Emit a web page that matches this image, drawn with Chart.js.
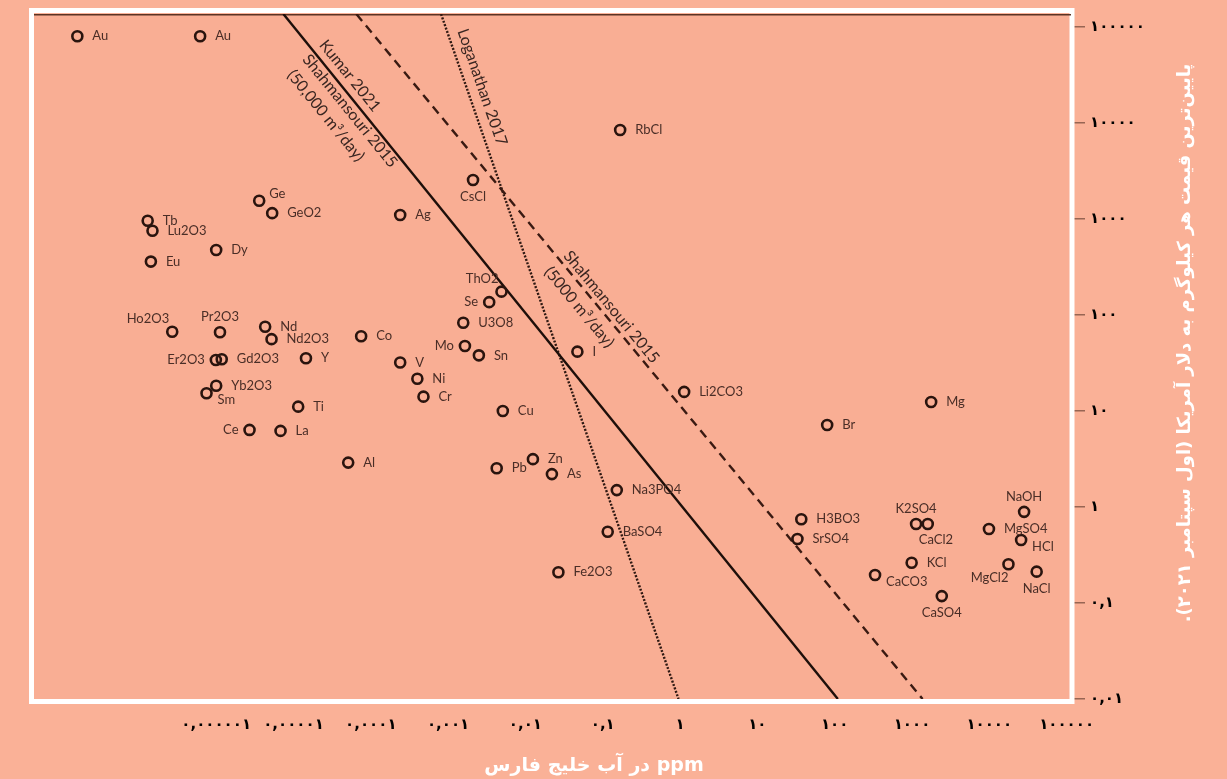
<!DOCTYPE html>
<html lang="fa">
<head>
<meta charset="utf-8">
<title>Break-even prices for Persian Gulf brine minerals</title>
<script src="https://cdn.jsdelivr.net/npm/chart.js@4.4.1/dist/chart.umd.min.js"></script>
<style>
  html, body { margin: 0; padding: 0; background: #FAB197; }
  #wrap { width: 1227px; height: 779px; position: relative; }
</style>
</head>
<body>
<div id="wrap"><canvas id="c"></canvas></div>
<script>
// Substances: concentration in Persian Gulf water (ppm) and lowest price (USD per kg)
const names = ['Au','Au','RbCl','CsCl','Ge','GeO2','Ag','Tb','Lu2O3','Dy','Eu','ThO2','Se','U3O8',
  'Ho2O3','Pr2O3','Nd','Nd2O3','Co','Mo','Sn','I','Er2O3','Gd2O3','Y','V','Ni','Cr','Yb2O3','Sm',
  'Li2CO3','Mg','Ti','Cu','Br','Ce','La','Al','Zn','Pb','As','Na3PO4','NaOH','H3BO3','K2SO4',
  'CaCl2','MgSO4','BaSO4','SrSO4','HCl','KCl','MgCl2','NaCl','Fe2O3','CaCO3','CaSO4'];
const ppm = [1.6e-8, 6.2e-7, 0.168, 0.0021, 3.6e-6, 5.3e-6, 2.4e-4, 1.3e-7, 1.5e-7, 1.0e-6, 1.43e-7, 4.9e-3, 3.4e-3, 1.57e-3,
  2.7e-7, 1.12e-6, 4.3e-6, 5.2e-6, 7.5e-5, 1.65e-3, 2.5e-3, 0.047, 9.9e-7, 1.18e-6, 1.45e-5, 2.4e-4, 4.0e-4, 4.8e-4, 1.0e-6, 7.5e-7,
  1.13, 1770, 1.15e-5, 5.1e-3, 80, 2.7e-6, 6.8e-6, 5.1e-5, 0.0125, 4.25e-3, 0.022, 0.152, 28200, 37, 1130,
  1600, 9900, 0.116, 33, 25800, 990, 17700, 41000, 0.0267, 333, 2430];
const price = [80000, 80000, 8450, 2550, 1550, 1150, 1100, 960, 755, 475, 360, 175, 136, 83,
  67, 66, 75.5, 56, 60, 47.5, 38, 41.5, 34, 34.6, 35.4, 32, 21.7, 14.1, 18.3, 15.3,
  15.8, 12.4, 11.1, 10, 7.15, 6.35, 6.2, 2.9, 3.15, 2.53, 2.2, 1.5, 0.89, 0.745, 0.665,
  0.665, 0.59, 0.553, 0.464, 0.453, 0.263, 0.253, 0.212, 0.209, 0.196, 0.118];

// Break-even lines (end points in ppm / USD per kg)
const largePlantPpm = [7.4e-6, 110];       // Kumar 2021 / Shahmansouri 2015, 50,000 m3/day
const largePlantPrice = [136500, 0.01];
const smallPlantPpm = [6.5e-5, 1370];      // Shahmansouri 2015, 5000 m3/day
const smallPlantPrice = [136500, 0.01];
const loganathanPpm = [8.1e-4, 0.956];     // Loganathan 2017
const loganathanPrice = [136500, 0.01];

// Axis ticks
const xTickValues = [1e-6, 1e-5, 1e-4, 1e-3, 0.01, 0.1, 1, 10, 100, 1000, 1e4, 1e5];
const xTickLabels = ['۰,۰۰۰۰۰۱','۰,۰۰۰۰۱','۰,۰۰۰۱','۰,۰۰۱','۰,۰۱','۰,۱','۱','۱۰','۱۰۰','۱۰۰۰','۱۰۰۰۰','۱۰۰۰۰۰'];
const yTickValues = [0.01, 0.1, 1, 10, 100, 1000, 1e4, 1e5];
const yTickLabels = ['۰,۰۱','۰,۱','۱','۱۰','۱۰۰','۱۰۰۰','۱۰۰۰۰','۱۰۰۰۰۰'];

const xTitle = 'ppm در آب خلیج فارس';
const yTitle = 'پایین\u200cترین قیمت هر کیلوگرم به دلار آمریکا (اول سپتامبر ۲۰۲۱).';

// Where each name sits relative to its marker (default: right)
const labelPlacement = {
  Ge: 'upRight', Ho2O3: 'upLeft', Pr2O3: 'up', Er2O3: 'left', Sm: 'rightDown', Ce: 'left',
  ThO2: 'upLeft', Se: 'left', Mo: 'left', CsCl: 'down', K2SO4: 'up', CaCl2: 'downRight',
  CaCO3: 'rightDown', CaSO4: 'down', NaOH: 'up', HCl: 'rightDown', MgCl2: 'downLeft', NaCl: 'down'
};

// Captions along the lines: dataset, fraction along the segment, offset across it (px)
const lineCaptions = [
  { ds: 1, t: 0.102, d: -12.8, text: 'Kumar 2021' },
  { ds: 1, t: 0.133, d: 9.2, text: 'Shahmansouri 2015' },
  { ds: 1, t: 0.120, d: 31, text: '(50,000 m³/day)' },
  { ds: 2, t: 0.437, d: -10, text: 'Shahmansouri 2015' },
  { ds: 2, t: 0.414, d: 15, text: '(5000 m³/day)' },
  { ds: 3, t: 0.114, d: -15, text: 'Loganathan 2017' }
];

const OUTER_BG = '#FAB197';
const PLOT_BG = '#F9AE94';
const INK = '#2a140e';

const pts = (xs, ys) => xs.map((x, i) => ({ x: x, y: ys[i] }));

const backdrop = {
  id: 'backdrop',
  beforeDraw(chart) {
    const { ctx, chartArea: a } = chart;
    ctx.save();
    ctx.fillStyle = OUTER_BG;
    ctx.fillRect(0, 0, chart.width, chart.height);
    ctx.fillStyle = PLOT_BG;
    ctx.fillRect(a.left, a.top, a.right - a.left, a.bottom - a.top);
    ctx.restore();
  },
  beforeDatasetsDraw(chart) {
    const { ctx, chartArea: a } = chart;
    ctx.save();
    ctx.strokeStyle = '#ffffff';
    ctx.lineWidth = 5;
    ctx.strokeRect(a.left - 2.5, a.top - 3.5, a.right - a.left + 3.5, a.bottom - a.top + 6);
    ctx.strokeStyle = '#5b3324';
    ctx.lineWidth = 1.5;
    ctx.beginPath();
    ctx.moveTo(a.left, a.top + 0.75);
    ctx.lineTo(a.right, a.top + 0.75);
    ctx.stroke();
    ctx.restore();
  }
};

const annotate = {
  id: 'annotate',
  afterDatasetsDraw(chart) {
    const ctx = chart.ctx;
    ctx.save();
    // names beside the markers
    ctx.font = '13px Lato, "Open Sans", sans-serif';
    ctx.fillStyle = '#4a2e27';
    ctx.textBaseline = 'middle';
    chart.getDatasetMeta(0).data.forEach((el, i) => {
      const name = names[i];
      const side = labelPlacement[name] || 'right';
      let x = el.x, y = el.y, align = 'left';
      switch (side) {
        case 'left': x -= 11; align = 'right'; break;
        case 'up': y -= 15; align = 'center'; break;
        case 'down': y += 17; align = 'center'; break;
        case 'upRight': x += 10; y -= 7; break;
        case 'upLeft': x -= 3; y -= 13; align = 'right'; break;
        case 'rightDown': x += 11; y += 7; break;
        case 'downRight': x -= 9; y += 16; break;
        case 'downLeft': x += 0; y += 14; align = 'right'; break;
        default: x += 15;
      }
      ctx.textAlign = align;
      ctx.fillText(name, x, y);
    });
    // captions along the break-even lines
    ctx.font = '16px Lato, "Open Sans", sans-serif';
    ctx.fillStyle = '#3a2621';
    ctx.textAlign = 'center';
    lineCaptions.forEach(c => {
      const d = chart.getDatasetMeta(c.ds).data;
      const x0 = d[0].x, y0 = d[0].y, x1 = d[1].x, y1 = d[1].y;
      const ang = Math.atan2(y1 - y0, x1 - x0);
      const px = x0 + (x1 - x0) * c.t - Math.sin(ang) * c.d;
      const py = y0 + (y1 - y0) * c.t + Math.cos(ang) * c.d;
      ctx.save();
      ctx.translate(px, py);
      ctx.rotate(ang);
      ctx.fillText(c.text, 0, 0);
      ctx.restore();
    });
    ctx.restore();
  },
  afterDraw(chart) {
    const ctx = chart.ctx;
    ctx.save();
    ctx.fillStyle = '#ffffff';
    ctx.direction = 'rtl';
    ctx.textAlign = 'center';
    ctx.textBaseline = 'middle';
    ctx.font = 'bold 19px "DejaVu Sans", sans-serif';
    ctx.fillText(xTitle, 594, 766);
    ctx.translate(1185, 343);
    ctx.rotate(-Math.PI / 2);
    ctx.font = 'bold 18px "DejaVu Sans", sans-serif';
    ctx.fillText(yTitle, 0, 0);
    ctx.restore();
  }
};

new Chart(document.getElementById('c'), {
  type: 'scatter',
  data: {
    datasets: [
      {
        data: pts(ppm, price),
        pointStyle: 'circle',
        pointRadius: 5,
        borderWidth: 2.6,
        borderColor: INK,
        backgroundColor: 'rgba(0,0,0,0)'
      },
      {
        data: pts(largePlantPpm, largePlantPrice),
        showLine: true, pointRadius: 0, borderColor: '#1e0f0a', borderWidth: 2.4
      },
      {
        data: pts(smallPlantPpm, smallPlantPrice),
        showLine: true, pointRadius: 0, borderColor: '#3a1a12', borderWidth: 2.4,
        borderDash: [9, 6]
      },
      {
        data: pts(loganathanPpm, loganathanPrice),
        showLine: true, pointRadius: 0, borderColor: '#2e1812', borderWidth: 2.4,
        borderDash: [2, 1.6]
      }
    ]
  },
  options: {
    responsive: true,
    maintainAspectRatio: false,
    devicePixelRatio: 1,
    animation: false,
    events: [],
    layout: { padding: { left: 34, top: 14, right: 0, bottom: 0 } },
    plugins: { legend: { display: false }, tooltip: { enabled: false } },
    scales: {
      x: {
        type: 'logarithmic',
        position: 'bottom',
        min: 4.4e-9,
        max: 1.14e5,
        grid: { display: false },
        border: { display: false },
        afterBuildTicks(scale) { scale.ticks = xTickValues.map(v => ({ value: v })); },
        afterFit(scale) { scale.height = 80; },
        ticks: {
          autoSkip: false,
          maxRotation: 0,
          padding: 9,
          color: '#000000',
          font: { family: '"DejaVu Sans", sans-serif', size: 15, weight: 'bold' },
          callback: (v, i) => xTickLabels[i]
        }
      },
      y: {
        type: 'logarithmic',
        position: 'right',
        min: 0.01,
        max: 136500,
        grid: { drawOnChartArea: false, drawTicks: true, tickLength: 14, color: 'rgba(70,38,28,0.55)', lineWidth: 1.5 },
        border: { display: false },
        afterBuildTicks(scale) { scale.ticks = yTickValues.map(v => ({ value: v })); },
        afterFit(scale) { scale.width = 156; },
        ticks: {
          autoSkip: false,
          padding: 5,
          color: '#000000',
          font: { family: '"DejaVu Sans", sans-serif', size: 15, weight: 'bold' },
          callback: (v, i) => yTickLabels[i]
        }
      }
    }
  },
  plugins: [backdrop, annotate]
});
</script>
</body>
</html>
